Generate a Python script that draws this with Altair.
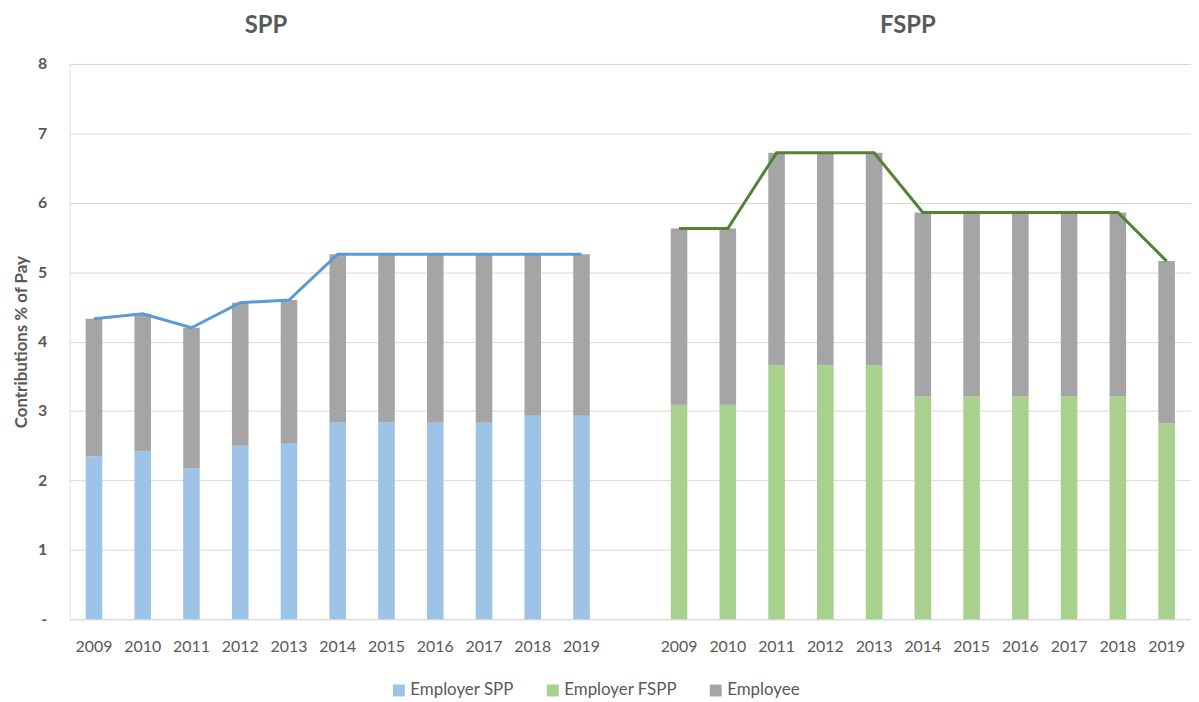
import altair as alt
import pandas as pd

years = ["2009", "2010", "2011", "2012", "2013", "2014", "2015", "2016", "2017", "2018", "2019"]
spp_employer = [2.35, 2.42, 2.17, 2.50, 2.54, 2.84, 2.84, 2.83, 2.83, 2.93, 2.93]
spp_employee = [1.98, 1.98, 2.03, 2.06, 2.06, 2.42, 2.42, 2.43, 2.43, 2.33, 2.33]
fspp_employer = [3.09, 3.09, 3.66, 3.66, 3.66, 3.21, 3.21, 3.21, 3.21, 3.21, 2.82]
fspp_employee = [2.54, 2.54, 3.06, 3.06, 3.06, 2.65, 2.65, 2.65, 2.65, 2.65, 2.34]
series_names = ["Employer SPP", "Employer FSPP", "Employee"]
series_colors = ["#9DC3E6", "#A9D18E", "#A5A5A5"]
panel_titles = ["SPP", "FSPP"]

spp_keys = ["SPP|" + y for y in years]
fspp_keys = ["FSPP|" + y for y in years]
gap_key = " "
x_domain = spp_keys + [gap_key] + fspp_keys

rows = []
for k, e, m in zip(spp_keys, spp_employer, spp_employee):
    rows.append({"key": k, "series": "Employer SPP", "value": e, "ord": 0})
    rows.append({"key": k, "series": "Employee", "value": m, "ord": 1})
for k, e, m in zip(fspp_keys, fspp_employer, fspp_employee):
    rows.append({"key": k, "series": "Employer FSPP", "value": e, "ord": 0})
    rows.append({"key": k, "series": "Employee", "value": m, "ord": 1})
bars_df = pd.DataFrame(rows)

spp_line = pd.DataFrame({"key": spp_keys, "total": [a + b for a, b in zip(spp_employer, spp_employee)]})
fspp_line = pd.DataFrame({"key": fspp_keys, "total": [a + b for a, b in zip(fspp_employer, fspp_employee)]})

FONT = "Lato"
GRAY = "#595959"

x_enc = alt.X(
    "key:N",
    scale=alt.Scale(domain=x_domain, paddingInner=0.66, paddingOuter=0.33),
    sort=x_domain,
    axis=alt.Axis(
        title=None,
        labelExpr="indexof(datum.value, '|') >= 0 ? split(datum.value, '|')[1] : ''",
        labelAngle=0,
        domain=False,
        ticks=False,
        tickSize=0,
        labelPadding=19,
        labelFontSize=16,
        labelColor=GRAY,
        labelFont=FONT,
        grid=False,
    ),
)

y_scale = alt.Scale(domain=[0, 8], nice=False)

bars = alt.Chart(bars_df).mark_bar().encode(
    x=x_enc,
    y=alt.Y(
        "value:Q",
        stack="zero",
        scale=y_scale,
        axis=alt.Axis(
            title="Contributions % of Pay",
            titleFont=FONT,
            titleFontSize=17,
            titleFontWeight="bold",
            titleColor=GRAY,
            titlePadding=7,
            values=[0, 1, 2, 3, 4, 5, 6, 7, 8],
            format="d",
            labelExpr="datum.value == 0 ? '-' : datum.label",
            labelFont=FONT,
            labelFontSize=16,
            labelFontWeight="bold",
            labelColor=GRAY,
            labelPadding=23,
            domain=False,
            ticks=False,
            tickSize=0,
            grid=True,
            gridColor="#D9D9D9",
            gridWidth=1,
        ),
    ),
    color=alt.Color(
        "series:N",
        scale=alt.Scale(domain=series_names, range=series_colors),
        legend=alt.Legend(
            title=None,
            orient="none",
            legendX=323,
            legendY=622,
            direction="horizontal",
            symbolType="square",
            symbolSize=144,
            symbolStrokeWidth=0,
            labelFont=FONT,
            labelFontSize=17,
            labelColor=GRAY,
            labelOffset=3,
            columnPadding=30,
        ),
    ),
    order=alt.Order("ord:Q"),
)

line_spp = alt.Chart(spp_line).mark_line(color="#5B9BD5", strokeWidth=3).encode(
    x=alt.X("key:N", sort=x_domain), y=alt.Y("total:Q", scale=y_scale)
)
line_fspp = alt.Chart(fspp_line).mark_line(color="#548235", strokeWidth=3).encode(
    x=alt.X("key:N", sort=x_domain), y=alt.Y("total:Q", scale=y_scale)
)

titles_df = pd.DataFrame({"key": ["SPP|2012", "FSPP|2014"], "label": panel_titles})
title_spp = alt.Chart(titles_df.iloc[[0]]).mark_text(
    font=FONT, fontSize=24, fontWeight="bold", color=GRAY, dx=26, baseline="middle"
).encode(x=alt.X("key:N", sort=x_domain), y=alt.value(-38), text="label:N")
title_fspp = alt.Chart(titles_df.iloc[[1]]).mark_text(
    font=FONT, fontSize=24, fontWeight="bold", color=GRAY, dx=-15, baseline="middle"
).encode(x=alt.X("key:N", sort=x_domain), y=alt.value(-38), text="label:N")

chart = alt.layer(bars, line_spp, line_fspp, title_spp, title_fspp).properties(
    width=1129,
    height=559,
    autosize=alt.AutoSizeParams(type="none"),
    padding={"left": 62, "top": 54, "right": 0, "bottom": 86},
).configure_view(stroke=None).configure(background="white")

chart.save("out.html", embed_options={"renderer": "svg", "actions": False})
